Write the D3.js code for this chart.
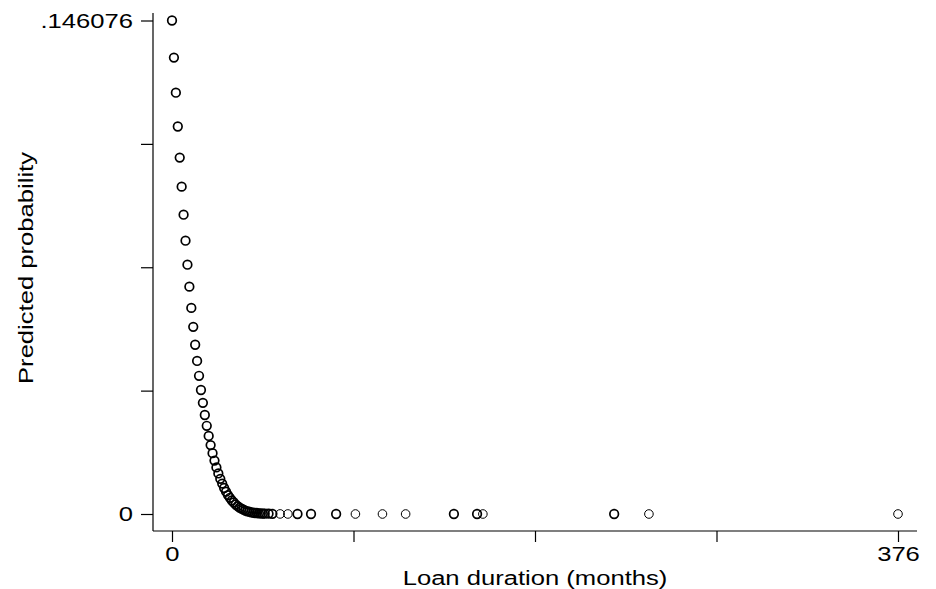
<!DOCTYPE html>
<html>
<head>
<meta charset="utf-8">
<script src="https://cdn.jsdelivr.net/npm/d3@7"></script>
<style>
  body { margin: 0; background: #fff; }
  text { font-family: "Liberation Sans", Arial, sans-serif; fill: #000; }
</style>
</head>
<body>
<svg id="chart" width="936" height="589"></svg>
<script>
// ---------------------------------------------
//  Data
// ---------------------------------------------

// Loan duration in months, one entry per plotted value
const durations = [
  0, 1, 2, 3, 4, 5, 6, 7, 8, 9, 10, 11, 12, 13, 14, 15, 16, 17, 18, 19,
  20, 21, 22, 23, 24, 25, 26, 27, 28, 29, 30, 31, 32, 33, 34, 35, 36, 37, 38, 39,
  40, 41, 42, 43, 44, 45, 46, 47, 48, 50, 52, 56, 60, 65, 72, 85, 95, 109,
  121, 146, 158, 161, 229, 247, 376
];

// Predicted probability at each duration
const probs = [
  0.146076, 0.1351, 0.1247, 0.1147, 0.1055, 0.0969, 0.0886, 0.0809, 0.0738, 0.0673,
  0.0610, 0.0554, 0.0501, 0.0453, 0.0409, 0.0367, 0.0329, 0.0293, 0.0261, 0.0231,
  0.0204, 0.0180, 0.0158, 0.0138, 0.0120, 0.0104, 0.0090, 0.0077, 0.0066, 0.0056,
  0.0048, 0.0040, 0.0034, 0.0028, 0.0023, 0.0019, 0.0016, 0.0013, 0.0010, 0.0008,
  0.0007, 0.0005, 0.0004, 0.0003, 0.0003, 0.0002, 0.0002, 0.0001, 0.0001, 0.0001,
  0.00005, 0.00002, 0.00001, 0, 0, 0, 0, 0,
  0, 0, 0, 0, 0, 0, 0
];

// Number of loans sharing a duration (overlapping markers print darker)
const counts = [
  2, 2, 2, 2, 2, 2, 2, 2, 2, 2, 2, 2, 2, 2, 2, 2, 2, 2, 2, 2,
  2, 2, 2, 2, 2, 2, 2, 2, 2, 2, 2, 2, 2, 2, 2, 2, 2, 2, 2, 2,
  2, 2, 2, 2, 2, 2, 2, 2, 2, 2, 2, 1, 1, 2, 2, 2, 1, 1,
  1, 2, 2, 1, 2, 1, 1
];

const xTickValues = [0, 94, 188, 282, 376];
const yMax = 0.146076;
const yTickValues = [0, yMax / 4, yMax / 2, yMax * 3 / 4, yMax];

const xTitle = "Loan duration (months)";
const yTitle = "Predicted probability";

// ---------------------------------------------
//  Scales & layout
// ---------------------------------------------

const svg = d3.select("#chart");
const fontSize = "21px";
const stretch = 1.22;   // text in the reference is wide along its baseline

const axisX = 153;      // position of the y axis line
const axisY = 531;      // position of the x axis line

const x = d3.scaleLinear().domain([0, 376]).range([172, 898]);
const y = d3.scaleLinear().domain([0, yMax]).range([514, 20.5]);

// Axis lines extend a bit beyond the tick range
svg.append("line")
  .attr("x1", axisX).attr("x2", axisX)
  .attr("y1", 13).attr("y2", axisY)
  .attr("stroke", "#000").attr("stroke-width", 1.2);

svg.append("line")
  .attr("x1", axisX).attr("x2", 917)
  .attr("y1", axisY).attr("y2", axisY)
  .attr("stroke", "#000").attr("stroke-width", 1.2);

// Y axis
const yAxis = svg.append("g")
  .attr("transform", `translate(${axisX},0)`)
  .call(d3.axisLeft(y)
    .tickValues(yTickValues)
    .tickSize(12)
    .tickPadding(8)
    .tickFormat(d => d === 0 ? "0" : (d === yMax ? ".146076" : "")));
yAxis.select(".domain").remove();
yAxis.selectAll(".tick line").attr("stroke", "#000").attr("stroke-width", 1.2);
yAxis.selectAll(".tick text")
  .style("font-size", fontSize)
  .attr("x", -20 / stretch)
  .attr("transform", `scale(${stretch},1)`);

// X axis
const xAxis = svg.append("g")
  .attr("transform", `translate(0,${axisY})`)
  .call(d3.axisBottom(x)
    .tickValues(xTickValues)
    .tickSize(11)
    .tickPadding(4)
    .tickFormat(d => (d === 0 || d === 376) ? String(d) : ""));
xAxis.select(".domain").remove();
xAxis.selectAll(".tick line").attr("stroke", "#000").attr("stroke-width", 1.2);
xAxis.selectAll(".tick text")
  .style("font-size", fontSize)
  .attr("transform", `scale(${stretch},1)`);

// Titles
svg.append("text")
  .attr("transform", `translate(535,585) scale(${stretch},1)`)
  .attr("text-anchor", "middle")
  .style("font-size", fontSize)
  .text(xTitle);

svg.append("text")
  .attr("transform", `translate(33,268) rotate(-90) scale(${stretch},1)`)
  .attr("text-anchor", "middle")
  .style("font-size", fontSize)
  .text(yTitle);

// ---------------------------------------------
//  Markers
// ---------------------------------------------

const points = durations.map((d, i) => ({ dur: d, p: probs[i], n: counts[i] }));

svg.append("g")
  .selectAll("circle")
  .data(points)
  .join("circle")
  .attr("cx", d => x(d.dur))
  .attr("cy", d => y(d.p))
  .attr("r", 4.3)
  .attr("fill", "none")
  .attr("stroke", "#000")
  .attr("stroke-width", d => d.n > 1 ? 1.7 : 1.0);
</script>
</body>
</html>
